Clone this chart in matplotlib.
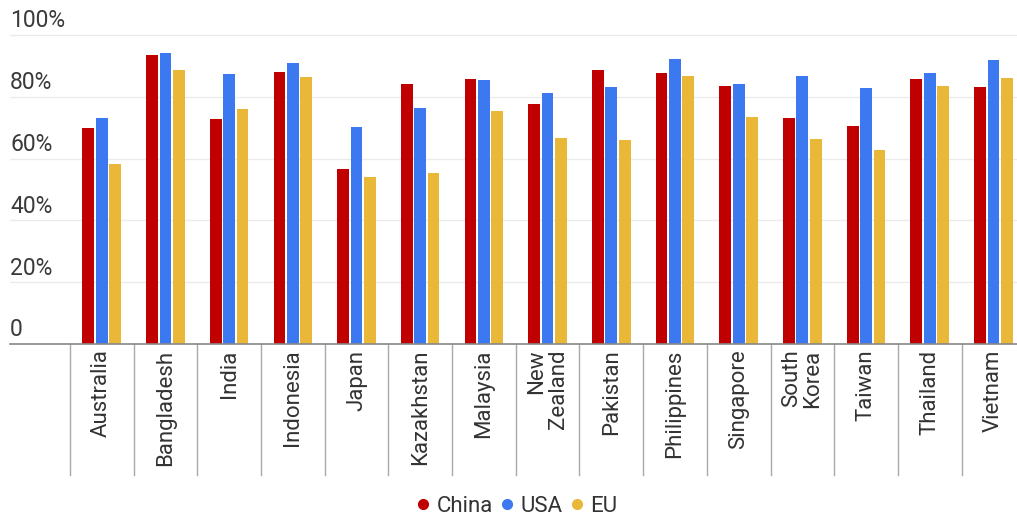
import matplotlib.pyplot as plt
from matplotlib.lines import Line2D
import numpy as np

plt.rcParams['font.family'] = ['Roboto', 'DejaVu Sans']

countries = ['Australia', 'Bangladesh', 'India', 'Indonesia', 'Japan', 'Kazakhstan',
             'Malaysia', 'New\nZealand', 'Pakistan', 'Philippines', 'Singapore',
             'South\nKorea', 'Taiwan', 'Thailand', 'Vietnam']
china = [70.0, 93.4, 72.8, 87.9, 56.6, 84.1, 85.7, 77.8, 88.6, 87.8, 83.6, 73.0, 70.6, 85.9, 83.1]
usa = [73.1, 94.3, 87.5, 90.8, 70.1, 76.3, 85.4, 81.3, 83.2, 92.3, 84.0, 86.6, 82.7, 87.7, 91.9]
eu = [58.3, 88.7, 76.1, 86.3, 54.0, 55.3, 75.3, 66.7, 66.0, 86.8, 73.5, 66.3, 62.7, 83.5, 86.0]
series = ['China', 'USA', 'EU']
colors = ['#c00000', '#3c78f0', '#e9b838']
yticks = [0, 20, 40, 60, 80, 100]

W, H = 1017, 517
fig = plt.figure(figsize=(W / 100, H / 100), dpi=100)
# axes: left edge x=10px, zero line at y=344px, 3.09 px per percent
ymax = 105
ax_h = ymax * 3.09
ax = fig.add_axes([10 / W, (H - 344) / H, (W - 10) / W, ax_h / H])

x = np.arange(len(countries))
step = 0.21
bw = 0.185
for i, (vals, c) in enumerate(zip([china, usa, eu], colors)):
    ax.bar(x + (i - 1) * step, vals, width=bw, color=c, zorder=3)

ax.set_ylim(0, ymax)
ax.set_xlim(-1.44, 14.37)

for v in yticks[1:]:
    ax.axhline(v, color='#ebebeb', lw=1, zorder=1)
for v in yticks:
    lbl = '0' if v == 0 else f'{v}%'
    ax.annotate(lbl, xy=(0, v), xycoords=('axes fraction', 'data'),
                xytext=(0, 1.8), textcoords='offset points', ha='left', va='bottom',
                fontsize=16.5, color='#3a3a3a')

for s in ['top', 'right', 'left']:
    ax.spines[s].set_visible(False)
ax.spines['bottom'].set_color('#888888')
ax.spines['bottom'].set_linewidth(1.2)
ax.spines['bottom'].set_zorder(4)
ax.set_yticks([])

ax.set_xticks(x)
ax.set_xticklabels(countries, rotation=90, fontsize=16, color='#333333',
                   multialignment='right', linespacing=1.0)
ax.tick_params(axis='x', length=0, pad=4)

# category dividers hanging below the axis
drop = 131 / ax_h
for b in np.arange(len(countries) + 1) - 0.5:
    ax.plot([b, b], [0, -drop], transform=ax.get_xaxis_transform(),
            color='#a8a8a8', lw=1, clip_on=False)

handles = [Line2D([], [], marker='o', ls='', color=c, markersize=7) for c in colors]
fig.legend(handles, series, loc='center', bbox_to_anchor=(517 / W, 1 - 506 / H),
           ncol=3, frameon=False, fontsize=16, handlelength=0.6, handletextpad=0.3,
           columnspacing=0.35, labelcolor='#333333')

fig.savefig('out.png', dpi=100)
